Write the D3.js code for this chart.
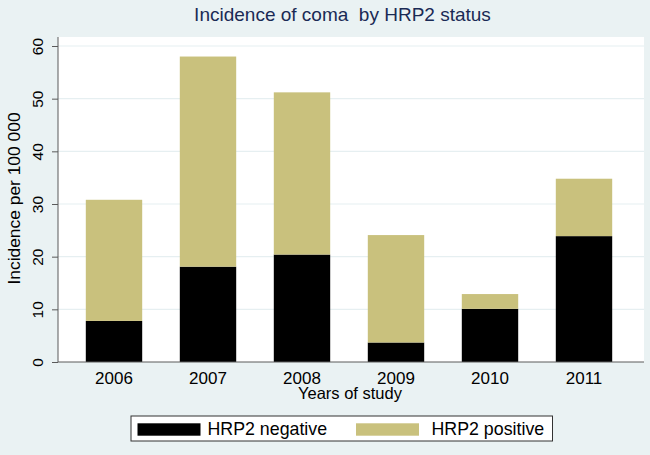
<!DOCTYPE html>
<html><head><meta charset="utf-8">
<script src="https://cdn.jsdelivr.net/npm/d3@7"></script>
<style>
html,body{margin:0;padding:0;background:#eaf2f3;}
svg{display:block;font-family:"Liberation Sans",Arial,sans-serif;}
</style></head>
<body>
<svg id="c" width="650" height="455"></svg>
<script>
const years = ["2006","2007","2008","2009","2010","2011"];
const hrp2Negative = [7.8, 18.1, 20.4, 3.7, 10.1, 23.9];
const hrp2Total = [30.8, 58.0, 51.2, 24.1, 12.9, 34.8];
const hrp2Positive = hrp2Total.map((t,i)=>+(t-hrp2Negative[i]).toFixed(1));
const yTicks = [0,10,20,30,40,50,60];
const seriesNames = ["HRP2 negative","HRP2 positive"];
const seriesColors = ["#000000","#c9c17d"];
const titleText = "Incidence of coma  by HRP2 status";
const xTitle = "Years of study";
const yTitle = "Incidence per 100 000";

const svg = d3.select("#c");
svg.append("rect").attr("width",650).attr("height",455).attr("fill","#eaf2f3");

const plot = {left:58, right:644, top:37, bottom:362};
svg.append("rect").attr("x",plot.left).attr("y",plot.top)
  .attr("width",plot.right-plot.left).attr("height",plot.bottom-plot.top).attr("fill","#ffffff");

const x = d3.scaleBand().domain(years).range([67,631]).paddingInner(0.4).paddingOuter(0.2);
const y = d3.scaleLinear().domain([0,60]).range([362,46]);

// gridlines
svg.append("g").selectAll("line").data(yTicks.filter(d=>d>0)).join("line")
  .attr("x1",plot.left).attr("x2",plot.right)
  .attr("y1",d=>y(d)).attr("y2",d=>y(d))
  .attr("stroke","#e6eff1").attr("stroke-width",1.2);

// stacked bars
const rows = years.map((yr,i)=>({year:yr, neg:hrp2Negative[i], pos:hrp2Positive[i]}));
const stack = d3.stack().keys(["neg","pos"])(rows);
svg.append("g").selectAll("g").data(stack).join("g")
  .attr("fill",(d,i)=>seriesColors[i])
  .selectAll("rect").data(d=>d).join("rect")
  .attr("x",d=>x(d.data.year)).attr("width",x.bandwidth())
  .attr("y",d=>y(d[1])).attr("height",d=>y(d[0])-y(d[1]));

// y axis
const yAxis = svg.append("g").attr("transform",`translate(${plot.left},0)`)
  .call(d3.axisLeft(y).tickValues(yTicks).tickSize(6).tickPadding(0).tickFormat(d3.format("d")));
yAxis.select(".domain").attr("stroke","#5a5a5a").attr("d",`M0,${plot.top}V${plot.bottom}`);
yAxis.selectAll(".tick line").attr("stroke","#5a5a5a");
yAxis.selectAll(".tick text").attr("fill","#000").attr("font-size",15.5)
  .attr("text-anchor","middle").attr("x",0).attr("dy",0)
  .attr("transform","translate(-15.5,0) rotate(-90)");

// x axis
const xAxis = svg.append("g").attr("transform",`translate(0,${plot.bottom})`)
  .call(d3.axisBottom(x).tickSize(0).tickPadding(0));
xAxis.select(".domain").attr("stroke","#5a5a5a").attr("d",`M${plot.left},0H${plot.right}`);
xAxis.selectAll(".tick text").attr("fill","#000").attr("font-size",17).attr("dy",0).attr("y",21.5);

// titles
svg.append("text").attr("x",342.5).attr("y",21).attr("text-anchor","middle")
  .style("white-space","pre")
  .attr("font-size",19).attr("fill","#1a2a55").text(titleText);
svg.append("text").attr("x",350).attr("y",398.5).attr("text-anchor","middle")
  .attr("font-size",16.5).attr("fill","#000").text(xTitle);
svg.append("text").attr("transform","translate(19.5,198.5) rotate(-90)").attr("text-anchor","middle")
  .attr("font-size",17.4).attr("fill","#000").text(yTitle);

// legend
const lg = svg.append("g");
lg.append("rect").attr("x",131).attr("y",416).attr("width",421.5).attr("height",25)
  .attr("fill","#fff").attr("stroke","#333").attr("stroke-width",1);
const legendItems = [{sx:137.5, tx:207.5},{sx:356, tx:431.5}];
seriesNames.forEach((n,i)=>{
  lg.append("rect").attr("x",legendItems[i].sx).attr("y",423.3).attr("width",63).attr("height",12.4).attr("fill",seriesColors[i]);
  lg.append("text").attr("x",legendItems[i].tx).attr("y",435).attr("font-size",17.8).attr("fill","#000").text(n);
});
</script>
</body></html>
